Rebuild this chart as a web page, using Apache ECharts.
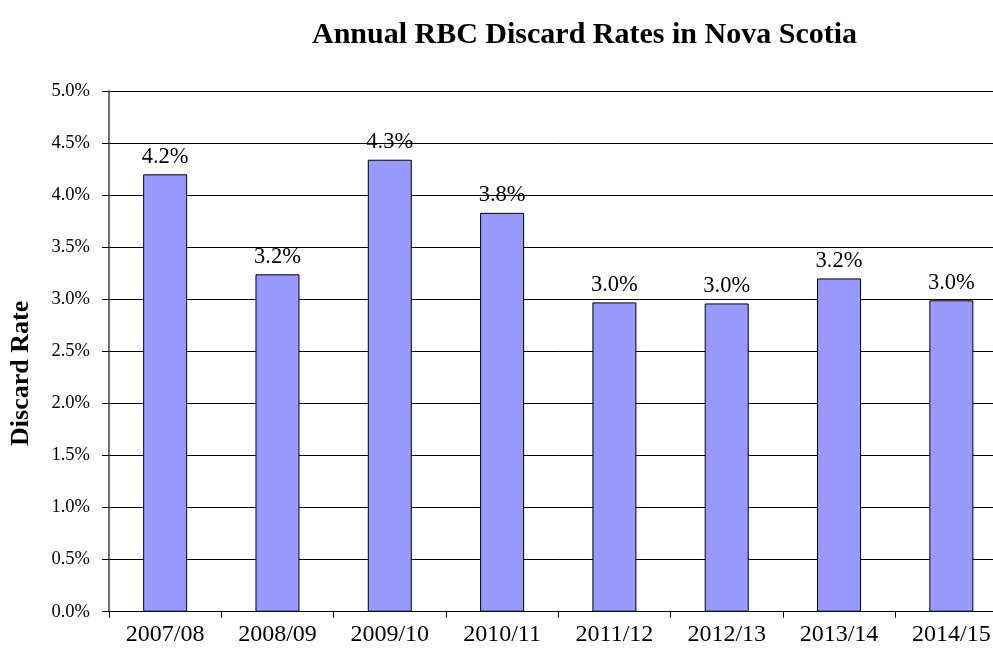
<!DOCTYPE html>
<html><head><meta charset="utf-8">
<script src="https://cdn.jsdelivr.net/npm/echarts@6/dist/echarts.min.js"></script>
<style>html,body{margin:0;padding:0;background:#fff;overflow:hidden}#c{width:1008px;height:650px}</style>
</head><body><div id="c"></div>
<script>
const categories = ['2007/08','2008/09','2009/10','2010/11','2011/12','2012/13','2013/14','2014/15'];
const discardRates = [4.20, 3.24, 4.34, 3.83, 2.97, 2.96, 3.20, 2.99];
const yTicks = [0, 0.5, 1, 1.5, 2, 2.5, 3, 3.5, 4, 4.5, 5];
const titleText = 'Annual RBC Discard Rates in Nova Scotia';
const yName = 'Discard Rate';

const font = '"Liberation Serif","Times New Roman",serif';
const chart = echarts.init(document.getElementById('c'), null, {renderer:'canvas'});
chart.setOption({
  animation:false,
  title:{text:titleText,left:579.5,top:15,textAlign:'center',
    textStyle:{fontFamily:font,fontWeight:'bold',fontSize:30,color:'#000'}},
  grid:{left:107.5,top:91,right:0.5,bottom:38.3,containLabel:false},
  xAxis:{type:'category',data:categories,
    axisLine:{lineStyle:{color:'#000',width:1}},
    axisTick:{show:true,length:6,alignWithLabel:false,lineStyle:{color:'#000'}},
    axisLabel:{fontFamily:font,fontSize:24,color:'#000',margin:11}},
  yAxis:{type:'value',min:yTicks[0],max:yTicks[yTicks.length-1],interval:0.5,
    name:yName,nameLocation:'middle',nameGap:75,
    nameTextStyle:{fontFamily:font,fontWeight:'bold',fontSize:26,color:'#000',padding:[0,44,0,0]},
    axisLine:{show:true,lineStyle:{color:'#444',width:1.5}},
    axisTick:{show:true,length:7,lineStyle:{color:'#000'}},
    splitLine:{lineStyle:{color:'#000',width:1}},
    axisLabel:{fontFamily:font,fontSize:18.5,color:'#000',margin:19,
      formatter:v=>v.toFixed(1)+'%'}},
  series:[{type:'bar',data:discardRates,barWidth:44,
    itemStyle:{color:'#9999FF',borderColor:'#000',borderWidth:1},
    label:{show:true,position:'top',distance:6,fontFamily:font,fontSize:22.5,color:'#000',
      formatter:p=>p.value.toFixed(1)+'%'}}]
});
</script></body></html>
